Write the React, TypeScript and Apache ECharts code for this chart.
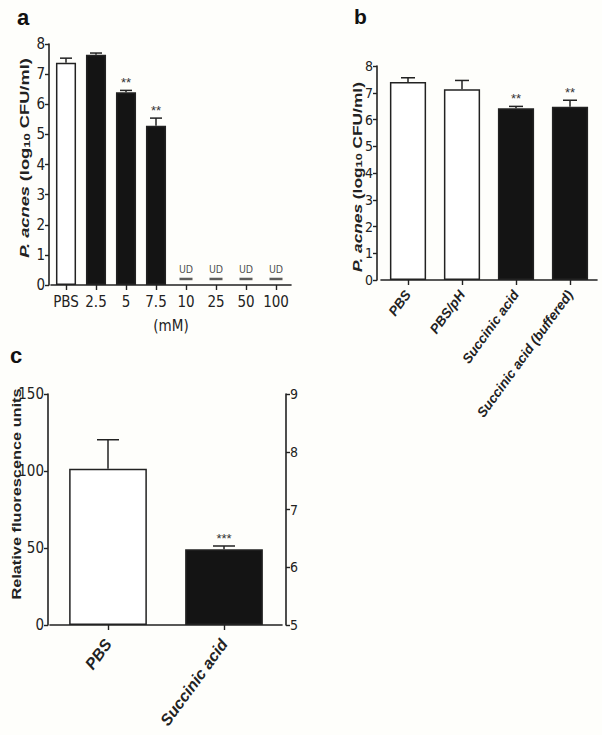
import React, { useEffect, useRef } from 'react';
import * as echarts from 'echarts';

// Panel a
const catsA = ['PBS', '2.5', '5', '7.5', '10', '25', '50', '100'];
const meanA = [7.38, 7.64, 6.4, 5.29, null, null, null, null];
const errA = [0.15, 0.06, 0.06, 0.25, null, null, null, null];
const fillA = ['white', 'black', 'black', 'black', 'black', 'black', 'black', 'black'];
const sigA = ['', '', '**', '**', '', '', '', ''];
const udA = [false, false, false, false, true, true, true, true];
const udLevel = 0.2;

// Panel b
const catsB = ['PBS', 'PBS/pH', 'Succinic acid', 'Succinic acid (buffered)'];
const meanB = [7.4, 7.13, 6.42, 6.48];
const errB = [0.16, 0.33, 0.07, 0.24];
const fillB = ['white', 'white', 'black', 'black'];
const sigB = ['', '', '**', '**'];

// Panel c
const catsC = ['PBS', 'Succinic acid'];
const meanC = [101.4, 49.2];
const errC = [18.9, 2.1];
const fillC = ['white', 'black'];
const sigC = ['', '***'];

const NARROW = '"Liberation Sans Narrow", "Arial Narrow", "DejaVu Sans Condensed", "Liberation Sans", Arial, sans-serif';
const SANS = '"Liberation Sans", Arial, sans-serif';
const INK = '#222';
const BLACK = '#141414';

const colorOf = (f: string) => (f === 'white' ? '#ffffff' : BLACK);

function barSeries(gi: number, means: (number | null)[], fills: string[]) {
  return {
    type: 'bar',
    xAxisIndex: gi,
    yAxisIndex: gi,
    barWidth: '67%',
    data: means.map((v, i) => ({
      value: v,
      itemStyle: { color: colorOf(fills[i]), borderColor: INK, borderWidth: 1.5 },
    })),
  };
}

function errSeries(gi: number, means: (number | null)[], errs: (number | null)[], sigs: string[], capW: number, sigSize: number) {
  const data: number[][] = [];
  means.forEach((m, i) => {
    if (m != null && errs[i] != null) data.push([i, m, m + (errs[i] as number)]);
  });
  return {
    type: 'custom',
    xAxisIndex: gi,
    yAxisIndex: gi,
    data,
    z: 5,
    renderItem: (params: any, api: any) => {
      const i = api.value(0);
      const base = api.coord([i, api.value(1)]);
      const top = api.coord([i, api.value(2)]);
      const children: any[] = [
        { type: 'line', shape: { x1: base[0], y1: base[1], x2: top[0], y2: top[1] }, style: { stroke: INK, lineWidth: 1.5 } },
        { type: 'line', shape: { x1: top[0] - capW / 2, y1: top[1], x2: top[0] + capW / 2, y2: top[1] }, style: { stroke: INK, lineWidth: 1.5 } },
      ];
      const s = sigs[i];
      if (s) {
        children.push({
          type: 'text',
          x: top[0],
          y: top[1] - 1,
          style: { text: s, fontSize: sigSize, fontFamily: SANS, fill: '#333', align: 'center', verticalAlign: 'bottom' },
        });
      }
      return { type: 'group', children };
    },
  };
}

const axisLineStyle = { lineStyle: { color: INK, width: 1.6 } };

function valueAxis(gi: number, min: number, max: number, interval: number, fontSize: number, offset: number, position = 'left') {
  return {
    type: 'value',
    gridIndex: gi,
    min,
    max,
    interval,
    position,
    offset,
    axisLine: { show: true, ...axisLineStyle },
    axisTick: { show: true, length: 4, lineStyle: { color: INK, width: 1.4 } },
    splitLine: { show: false },
    axisLabel: { color: '#222', fontSize, fontFamily: NARROW, margin: 4 },
  };
}

function catAxis(gi: number, cats: string[], label: any) {
  return {
    type: 'category',
    gridIndex: gi,
    data: cats,
    axisLine: { show: true, ...axisLineStyle },
    axisTick: { show: true, alignWithLabel: true, length: 5, lineStyle: { color: INK, width: 1.4 } },
    axisLabel: { interval: 0, color: '#222', ...label },
  };
}

const richTitle = (fs: number) => ({
  i: { fontSize: fs, fontWeight: 'bold', fontStyle: 'italic', fontFamily: SANS, fill: '#222' },
  b: { fontSize: fs, fontWeight: 'bold', fontFamily: SANS, fill: '#222' },
  s: { fontSize: Math.round(fs * 0.7), fontWeight: 'bold', fontFamily: SANS, fill: '#222', verticalAlign: 'bottom' },
});

export default function App() {
  const ref = useRef<HTMLDivElement>(null);
  useEffect(() => {
    if (!ref.current) return;
    const chart = echarts.init(ref.current, undefined, { renderer: 'svg' });
    const option: any = {
      animation: false,
      backgroundColor: '#fefefb',
      grid: [
        { left: 51, top: 44, width: 240, height: 241 },
        { left: 381, top: 66, width: 216, height: 214 },
        { left: 50, top: 394, width: 232, height: 231 },
      ],
      xAxis: [
        {
          ...catAxis(0, catsA, { fontSize: 15, fontFamily: NARROW, margin: 9 }),
          name: '(mM)',
          nameLocation: 'middle',
          nameGap: 33,
          nameTextStyle: { fontSize: 15, fontFamily: NARROW, color: '#222' },
        },
        catAxis(1, catsB, { fontSize: 13.5, fontFamily: SANS, fontWeight: 'bold', fontStyle: 'italic', rotate: 54, margin: 12 }),
        catAxis(2, catsC, { fontSize: 16, fontFamily: SANS, fontWeight: 'bold', fontStyle: 'italic', rotate: 54, margin: 16 }),
      ],
      yAxis: [
        valueAxis(0, 0, 8, 1, 15, 2),
        valueAxis(1, 0, 8, 1, 14, 4),
        valueAxis(2, 0, 150, 50, 15, 2),
        valueAxis(2, 5, 9, 1, 14, 4, 'right'),
      ],
      series: [
        barSeries(0, meanA, fillA),
        errSeries(0, meanA, errA, sigA, 12, 13),
        {
          type: 'scatter',
          xAxisIndex: 0,
          yAxisIndex: 0,
          symbol: 'rect',
          symbolSize: [13, 2.5],
          itemStyle: { color: '#333' },
          data: udA.map((u, i) => (u ? [i, udLevel] : [i, null])),
          label: {
            show: true,
            position: 'top',
            distance: 3,
            formatter: 'UD',
            fontSize: 10.5,
            fontFamily: NARROW,
            color: '#222',
          },
        },
        barSeries(1, meanB, fillB),
        errSeries(1, meanB, errB, sigB, 14, 13),
        barSeries(2, meanC, fillC),
        errSeries(2, meanC, errC, sigC, 22, 13),
      ],
      graphic: [
        { type: 'text', x: 17, y: 6, style: { text: 'a', fontSize: 22, fontWeight: 'bold', fontFamily: SANS, fill: '#111' } },
        { type: 'text', x: 354, y: 6, style: { text: 'b', fontSize: 21, fontWeight: 'bold', fontFamily: SANS, fill: '#111' } },
        { type: 'text', x: 10, y: 344, style: { text: 'c', fontSize: 22, fontWeight: 'bold', fontFamily: SANS, fill: '#111' } },
        {
          type: 'text', x: 25, y: 158, rotation: Math.PI / 2, scaleX: 1.45,
          style: { text: '{i|P. acnes} {b|(log}{s|10}{b| CFU/ml)}', rich: richTitle(12.6), align: 'center', verticalAlign: 'middle' },
        },
        {
          type: 'text', x: 357.5, y: 177, rotation: Math.PI / 2, scaleX: 1.42,
          style: { text: '{i|P. acnes} {b|(log}{s|10}{b| CFU/ml)}', rich: richTitle(12.2), align: 'center', verticalAlign: 'middle' },
        },
        {
          type: 'text', x: 17, y: 494, rotation: Math.PI / 2, scaleX: 1.36,
          style: { text: 'Relative fluorescence units', fontSize: 12, fontWeight: 'bold', fontFamily: SANS, fill: '#222', align: 'center', verticalAlign: 'middle' },
        },
      ],
    };
    chart.setOption(option);
    return () => chart.dispose();
  }, []);
  return <div ref={ref} style={{ position: 'absolute', left: 0, top: 0, width: 602, height: 735 }} />;
}
